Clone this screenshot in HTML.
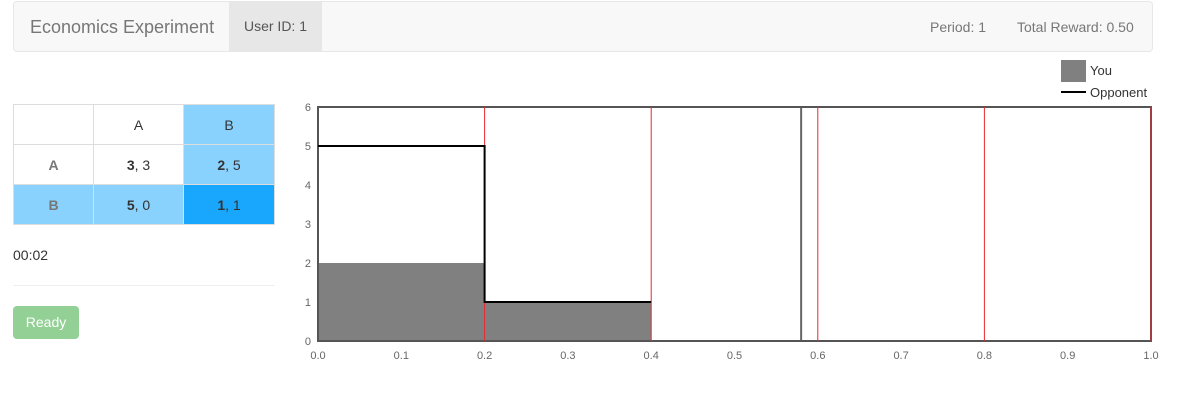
<!DOCTYPE html>
<html><head><meta charset="utf-8"><style>
body{margin:0;width:1178px;height:406px;background:#fff;font-family:"Liberation Sans",sans-serif;position:relative;overflow:hidden}
.nav{position:absolute;left:13px;top:1px;width:1138px;height:49px;background:#f8f8f8;border:1px solid #e7e7e7;border-radius:4px}
.nav .t{position:absolute;left:16px;top:15px;font-size:18px;color:#777}
.nav .u{position:absolute;left:215px;top:0;width:93px;height:49px;background:#e7e7e7;color:#555;font-size:14px;line-height:49px;text-align:center}
.nav .r{position:absolute;top:17px;font-size:14px;color:#777}
table{position:absolute;left:13px;top:104px;border-collapse:collapse;font-size:14px;color:#333}
td{border:1px solid #ddd;height:39px;text-align:center;padding:0}
.l{background:#89d2fd}.d{background:#19a7fd}
.h{font-weight:bold;color:#777}
.timer{position:absolute;left:13px;top:247px;font-size:14px;color:#333}
.hr{position:absolute;left:13px;top:285px;width:262px;border-top:1px solid #eee}
.btn{position:absolute;left:13px;top:306px;width:66px;height:33px;background:#93d095;border-radius:4px;color:#fff;font-size:14px;line-height:33px;text-align:center}
</style></head><body>
<div class="nav">
<span class="t">Economics Experiment</span>
<span class="u">User ID: 1</span>
<span class="r" style="left:916px">Period: 1</span>
<span class="r" style="left:1003px">Total Reward: 0.50</span>
</div>
<table>
<tr><td style="width:79px"></td><td style="width:89px">A</td><td class="l" style="width:90px">B</td></tr>
<tr><td class="h">A</td><td><b>3</b>, 3</td><td class="l"><b>2</b>, 5</td></tr>
<tr><td class="h l">B</td><td class="l"><b>5</b>, 0</td><td class="d"><b>1</b>, 1</td></tr>
</table>
<div class="timer">00:02</div>
<div class="hr"></div>
<div class="btn">Ready</div>
<svg id="c" width="1178" height="406" style="position:absolute;left:0;top:0"></svg>
<script>
const youX=[0,0.2,0.4];
const youY=[2,1];
const oppX=[0,0.2,0.4];
const oppY=[5,1];
const redLines=[0.2,0.4,0.6,0.8,1.0];
const currentT=0.58;
const xTicks=[0,0.1,0.2,0.3,0.4,0.5,0.6,0.7,0.8,0.9,1.0];
const yTicks=[0,1,2,3,4,5,6];
const X0=318,X1=1151,Y0=341,Y1=107;
const sx=v=>X0+(X1-X0)*v, sy=v=>Y0-(Y0-Y1)*v/6;
const svg=document.getElementById('c');const NS='http://www.w3.org/2000/svg';
function mk(t,a){const e=document.createElementNS(NS,t);for(const k in a)e.setAttribute(k,a[k]);svg.appendChild(e);return e;}
for(let i=0;i<youY.length;i++){
const r=mk('rect',{x:sx(youX[i]),y:sy(youY[i]),width:sx(youX[i+1])-sx(youX[i]),height:Y0-sy(youY[i]),fill:'#808080'});

}
let d='';for(let i=0;i<oppY.length;i++){d+=(i?'L':'M')+sx(oppX[i])+','+sy(oppY[i])+'L'+sx(oppX[i+1])+','+sy(oppY[i]);}
const cl=mk('line',{x1:sx(currentT),x2:sx(currentT),y1:Y1,y2:Y0,stroke:'#666','stroke-width':2});


const fr=mk('rect',{x:X0,y:Y1,width:X1-X0,height:Y0-Y1,fill:'none',stroke:'#555','stroke-width':2});


redLines.forEach(v=>{const l=mk('line',{x1:sx(v),x2:sx(v),y1:Y1,y2:Y0,stroke:'#e8282e','stroke-width':1});

});
const p=mk('path',{d:d,fill:'none',stroke:'#000','stroke-width':2});


xTicks.forEach(v=>{const t=mk('text',{x:sx(v),y:359,'text-anchor':'middle','font-size':11,fill:'#666','font-family':'Liberation Sans'});t.textContent=v.toFixed(1);

});
yTicks.forEach(v=>{const t=mk('text',{x:311,y:sy(v)+4,'text-anchor':'end','font-size':11,fill:'#666','font-family':'Liberation Sans'});t.textContent=v;

});
</script>
<svg width="120" height="50" style="position:absolute;left:1058px;top:56px">
<rect x="3" y="4" width="25" height="22" fill="#808080"/>
<text x="32" y="19" font-size="13" fill="#333" font-family="Liberation Sans">You</text>
<line x1="3" x2="28" y1="36" y2="36" stroke="#000" stroke-width="2"/>
<text x="32" y="41" font-size="13" fill="#333" font-family="Liberation Sans">Opponent</text>
</svg>
</body></html>
